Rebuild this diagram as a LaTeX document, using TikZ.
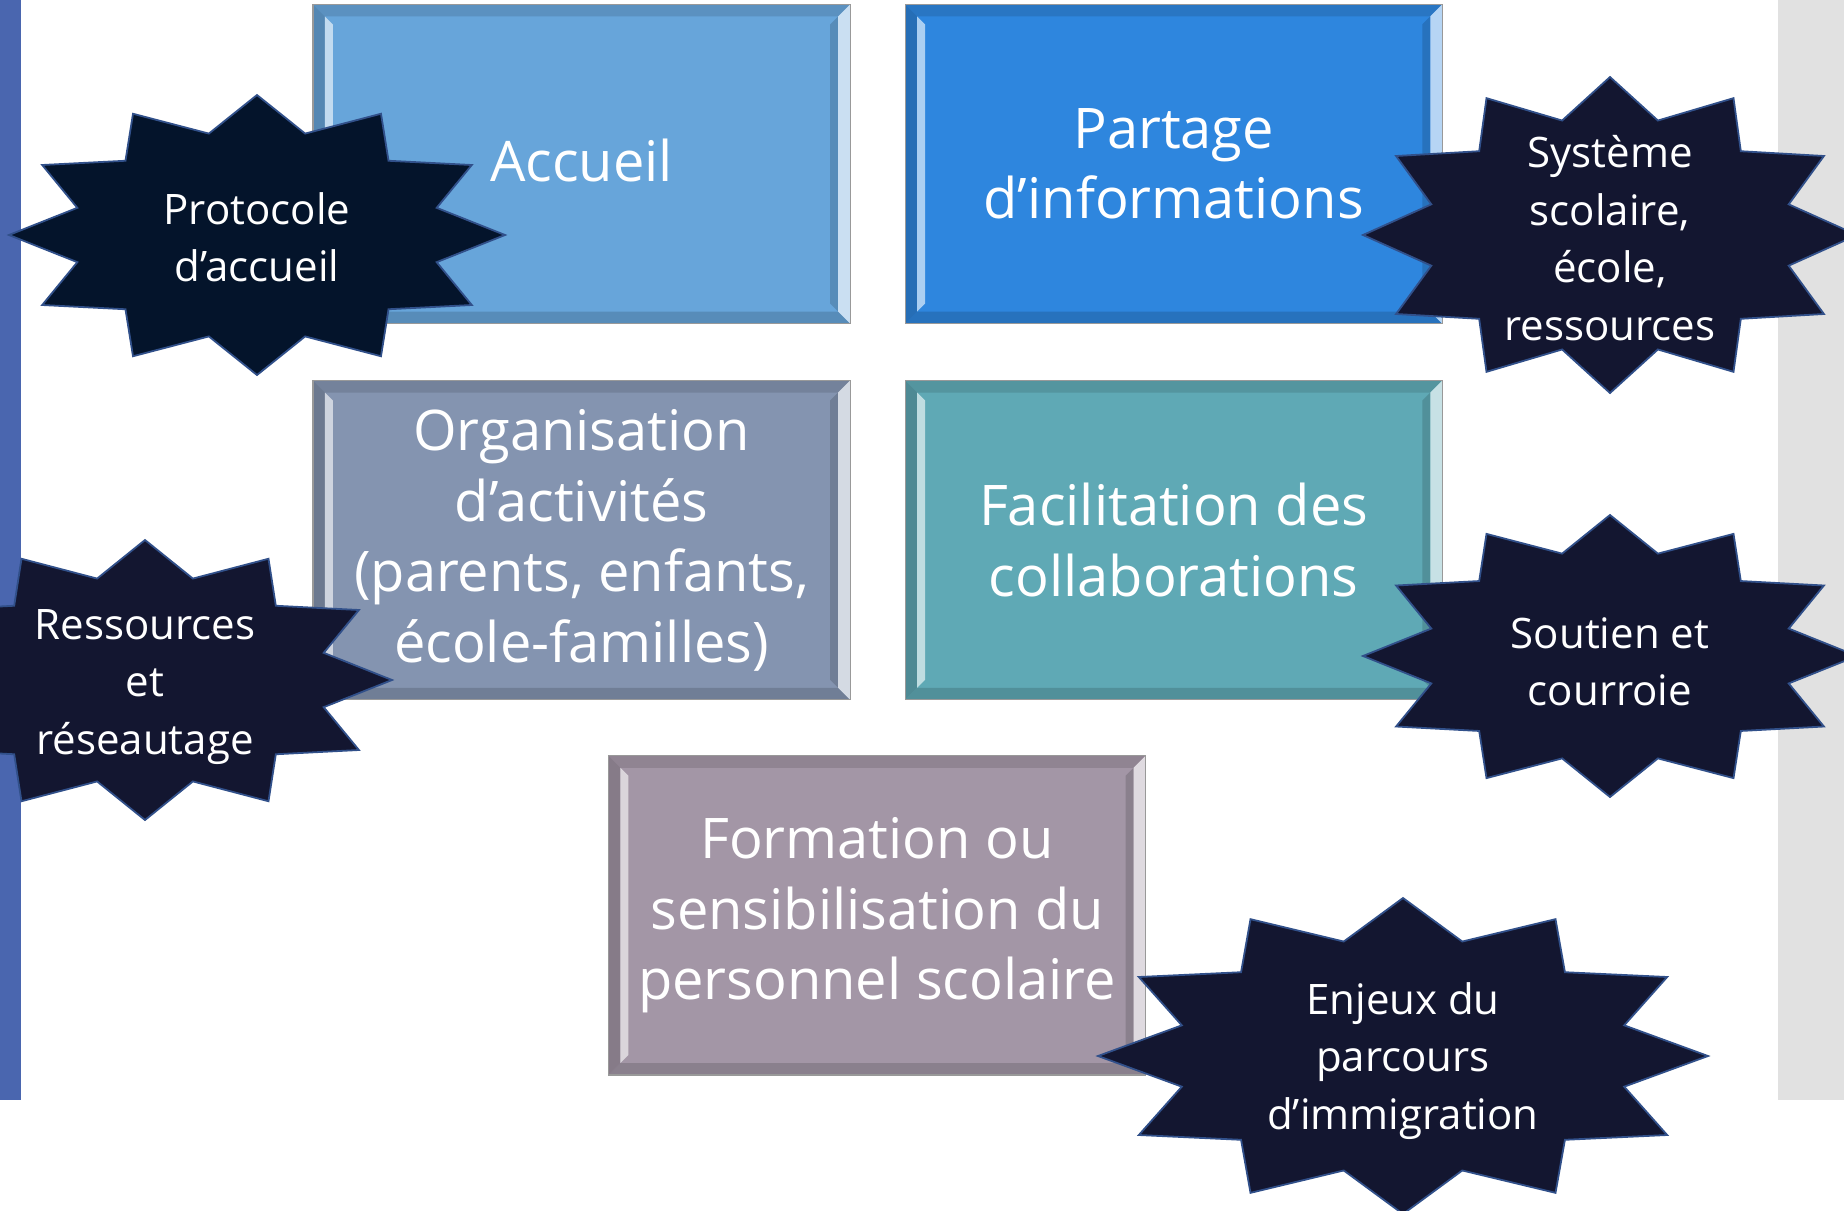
\documentclass[tikz,border=0pt]{standalone}
\usepackage{fontspec}
\setmainfont{Open Sans}
\usetikzlibrary{positioning}

\definecolor{sidebar}{HTML}{4A66AF}
\definecolor{sidegrey}{HTML}{E1E1E1}
\definecolor{accueilblue}{HTML}{67A5DA}
\definecolor{partageblue}{HTML}{2E86DE}
\definecolor{orgslate}{HTML}{8494B0}
\definecolor{facteal}{HTML}{5FA9B5}
\definecolor{formmauve}{HTML}{A396A6}
\definecolor{burstnavy}{HTML}{131630}
\definecolor{burstdeep}{HTML}{04142B}
\definecolor{burstedge}{HTML}{31508A}

\begin{document}
\begin{tikzpicture}[
  x=0.5pt, y=-0.5pt,
  box/.style={draw=black!40, line width=0.6pt, text=white, align=center,
              minimum width=268pt, minimum height=159pt, inner sep=0pt,
              font=\fontsize{28}{35.25}\selectfont},
  burst/.style={fill=burstnavy, draw=burstedge, line width=0.9pt, line join=miter},
  bursttext/.style={text=white, align=center, font=\fontsize{21}{28.75}\selectfont}
]
\useasboundingbox (0,0) rectangle (1844,1211);
\fill[sidebar] (0,0) rectangle (21,1100);
\fill[sidegrey] (1778,0) rectangle (1844,1100);

% the five boxes
\node[box, fill=accueilblue, text depth=4pt] (accueil) at (581.5,164) {Accueil};
\node[box, fill=partageblue, right=27.5pt of accueil] (partage)
  {Partage\\d’informations};
\node[box, fill=orgslate, below=28.5pt of accueil] (organisation)
  {Organisation\\d’activités\\(parents, enfants,\\école-familles)};
\node[box, fill=facteal, below=28.5pt of partage] (facilitation)
  {Facilitation des\\collaborations};
\node[box, fill=formmauve, below=28pt of organisation, xshift=147.75pt] (formation)
  {Formation ou\\sensibilisation du\\personnel scolaire};

% bevel edges
\foreach \b/\c in {accueil/accueilblue, partage/partageblue, organisation/orgslate,
                   facilitation/facteal, formation/formmauve} {
  \fill[\c!88!black] (\b.north west) -- (\b.north east) -- ([shift={(-12,12)}]\b.north east)
    -- ([shift={(12,12)}]\b.north west) -- cycle;
  \fill[\c!85!black] (\b.south west) -- (\b.south east) -- ([shift={(-12,-12)}]\b.south east)
    -- ([shift={(12,-12)}]\b.south west) -- cycle;
  \fill[\c!82!black] (\b.north west) -- ([shift={(12,12)}]\b.north west)
    -- ([shift={(12,-12)}]\b.south west) -- (\b.south west) -- cycle;
  \fill[\c!40!white] ([shift={(12,12)}]\b.north west) -- ([shift={(20,20)}]\b.north west)
    -- ([shift={(20,-20)}]\b.south west) -- ([shift={(12,-12)}]\b.south west) -- cycle;
  \fill[\c!85!black] ([shift={(-12,12)}]\b.north east) -- ([shift={(-20,20)}]\b.north east)
    -- ([shift={(-20,-20)}]\b.south east) -- ([shift={(-12,-12)}]\b.south east) -- cycle;
  \fill[\c!35!white] (\b.north east) -- ([shift={(-12,12)}]\b.north east)
    -- ([shift={(-12,-12)}]\b.south east) -- (\b.south east) -- cycle;
  \draw[black!40, line width=0.6pt] (\b.north west) rectangle (\b.south east);
}

% starbursts
\draw[burst, fill=burstdeep, shift={(257,235)}] (0:248 and 140)
  \foreach \a in {15,45,...,345} {-- (\a:186 and 105) -- (\a+15:248 and 140)} -- cycle;
\draw[burst, shift={(1610,235)}] (0:247 and 158)
  \foreach \a in {15,45,...,345} {-- (\a:185 and 118.5) -- (\a+15:247 and 158)} -- cycle;
\draw[burst, shift={(145,680)}] (0:247 and 140)
  \foreach \a in {15,45,...,345} {-- (\a:185 and 105) -- (\a+15:247 and 140)} -- cycle;
\draw[burst, shift={(1610,656)}] (0:247 and 141)
  \foreach \a in {15,45,...,345} {-- (\a:185 and 106) -- (\a+15:247 and 141)} -- cycle;
\draw[burst, shift={(1403,1056)}] (0:305 and 158)
  \foreach \a in {15,45,...,345} {-- (\a:229 and 118.5) -- (\a+15:305 and 158)} -- cycle;

\node[bursttext] (protocole) at (257,237) {Protocole\\d’accueil};
\node[bursttext] (systeme) at (1610,238) {Système\\scolaire,\\école,\\ressources};
\node[bursttext] (ressources) at (145,687) {Ressources\\et\\réseautage};
\node[bursttext] (soutien) at (1610,662) {Soutien et\\courroie};
\node[bursttext] (enjeux) at (1403,1061) {Enjeux du\\parcours\\d’immigration};
\end{tikzpicture}
\end{document}
